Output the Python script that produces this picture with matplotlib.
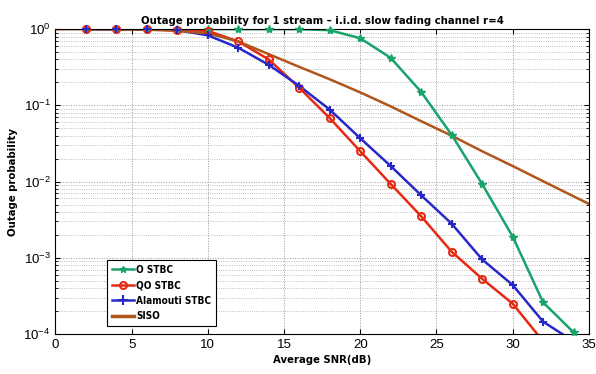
import matplotlib.pyplot as plt
import numpy as np
from matplotlib.lines import Line2D
from matplotlib import font_manager

# SNR points (dB)
snr = [2, 4, 6, 8, 10, 12, 14, 16, 18, 20, 22, 24, 26, 28, 30, 32, 34]

o_stbc = [1, 1, 1, 1, 1, 1, 1, 1, 0.97, 0.76, 0.42, 0.15, 0.041, 0.0093,
          0.0019, 2.6e-4, 1.05e-4]
qo_stbc = [1, 1, 1, 0.98, 0.95, 0.69, 0.40, 0.17, 0.068, 0.025, 0.0093,
           0.0035, 0.0012, 5.3e-4, 2.5e-4, 8e-5]
alamouti = [1, 1, 1, 0.97, 0.83, 0.57, 0.34, 0.18, 0.088, 0.037, 0.016,
            0.0066, 0.0028, 9.5e-4, 4.4e-4, 1.45e-4, 8e-5]

siso_snr = [0, 2, 4, 6, 8, 10, 12, 14, 16, 18, 20, 22, 24, 26, 28, 30, 32, 34, 35]
siso = [1, 1, 0.998, 0.985, 0.95, 0.88, 0.69, 0.47, 0.32, 0.22, 0.148,
        0.097, 0.062, 0.04, 0.025, 0.016, 0.0101, 0.0064, 0.0051]

green = '#17a36a'
red = '#e52a12'
blue = '#2828c8'
brown = '#b0561a'

# narrow bold font for the labels, like the original figure
fonts = font_manager.fontManager.ttflist
if any(f.name == 'Liberation Sans Narrow' for f in fonts):
    lab = {'family': 'Liberation Sans Narrow', 'weight': 'bold'}
    scale = 1.0
elif any(f.name == 'DejaVu Sans' and f.stretch == 'condensed' for f in fonts):
    lab = {'family': 'DejaVu Sans', 'weight': 'bold', 'stretch': 'condensed'}
    scale = 0.9
else:
    lab = {'family': 'Liberation Sans', 'weight': 'bold'}
    scale = 0.8
plt.rcParams['font.family'] = ['Liberation Sans', 'DejaVu Sans']

fig = plt.figure(figsize=(5.96, 3.74), dpi=100)
ax = fig.add_axes([0.093, 0.107, 0.895, 0.815])

def draw(x, y, color, marker, **mk):
    x = np.array(x[:len(y)], dtype=float)
    y = np.array(y, dtype=float)
    ax.plot(x, y, color=color, lw=1.8)
    keep = y >= 1e-4
    ax.plot(x[keep], y[keep], ls='none', marker=marker, color=color,
            clip_on=False, zorder=5, **mk)

draw(snr, o_stbc, green, '*', ms=6)
draw(snr, qo_stbc, red, 'o', ms=5, mfc='none', mew=1.5)
draw(snr, alamouti, blue, '+', ms=6, mew=1.5)
ax.plot(siso_snr, siso, color=brown, lw=1.8)

ax.set_yscale('log')
ax.set_xlim(0, 35)
ax.set_ylim(1e-4, 1)
ax.set_xticks(range(0, 36, 5))
ax.tick_params(direction='in', which='both', labelsize=9.5, top=True, right=True)
ax.grid(True, which='major', ls=':', color='#999999', lw=0.7)
ax.grid(True, which='minor', axis='y', ls=':', color='#aaaaaa', lw=0.6)

ax.set_title('Outage probability for 1 stream \u2013 i.i.d. slow fading channel r=4',
             fontsize=9 * scale, fontdict=lab, pad=4)
ax.set_xlabel('Average SNR(dB)', fontsize=9 * scale, fontdict=lab, labelpad=3)
ax.set_ylabel('Outage probability', fontsize=9 * scale, fontdict=lab, labelpad=4)

handles = [
    Line2D([], [], color=green, lw=1.8, marker='*', ms=5),
    Line2D([], [], color=red, lw=1.8, marker='o', ms=5, mfc='none', mew=1.5),
    Line2D([], [], color=blue, lw=1.8, marker='+', ms=7, mew=1.5),
    Line2D([], [], color=brown, lw=2.5),
]
leg_prop = dict(lab, size=8 * scale)
leg = ax.legend(handles, ['O STBC', 'QO STBC', 'Alamouti STBC', 'SISO'],
                loc='lower left', bbox_to_anchor=(0.097, 0.025),
                prop=leg_prop, fancybox=False, framealpha=1,
                edgecolor='black', handlelength=2.2, borderaxespad=0,
                labelspacing=0.55, handletextpad=0.2, borderpad=0.5)
leg.get_frame().set_linewidth(0.8)

plt.savefig('out.png', dpi=100)
